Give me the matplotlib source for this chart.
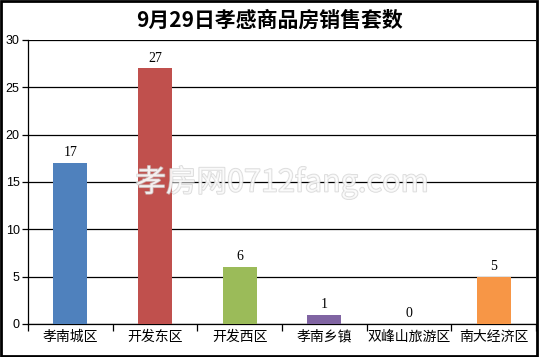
import matplotlib
matplotlib.use("Agg")
import matplotlib.pyplot as plt
from matplotlib.patches import Rectangle
import matplotlib.patheffects as pe

categories = ["孝南城区", "开发东区", "开发西区", "孝南乡镇", "双峰山旅游区", "南大经济区"]
values = [17, 27, 6, 1, 0, 5]
colors = ["#4F81BD", "#C0504D", "#9BBB59", "#8064A2", "#4BACC6", "#F79646"]
yticks = [0, 5, 10, 15, 20, 25, 30]
title = "9月29日孝感商品房销售套数"

plt.rcParams['font.family'] = ['Noto Sans CJK SC', 'DejaVu Sans']

fig = plt.figure(figsize=(5.39, 3.57), dpi=100)
ax = fig.add_axes([28/539, 33/357, 508/539, 284/357])

x = list(range(len(categories)))
ax.bar(x, values, width=0.4, color=colors, zorder=3)
for xi, v in zip(x, values):
    ax.text(xi, v + 0.4, str(v), ha="center", va="bottom", fontsize=10,
            family="Liberation Serif", zorder=4)

ax.set_xlim(-0.5, len(categories) - 0.5)
ax.set_ylim(0, 30)
ax.set_yticks(yticks)
ax.set_yticklabels([str(t) for t in yticks], fontsize=9, family="Liberation Sans")
ax.yaxis.grid(True, color="black", linewidth=0.9, zorder=0)
ax.set_axisbelow(True)

ax.set_xticks([i - 0.5 for i in range(len(categories) + 1)])
ax.set_xticklabels([])
ax.set_xticks(x, minor=True)
ax.set_xticklabels(categories, minor=True, fontsize=10)
ax.tick_params(axis="x", which="minor", length=0, pad=4)
ax.tick_params(axis="x", which="major", length=5, width=0.9)
ax.tick_params(axis="y", length=4, width=0.9, pad=2)

for s in ["top", "right"]:
    ax.spines[s].set_visible(False)
for s in ["left", "bottom"]:
    ax.spines[s].set_linewidth(0.9)

ax.text(0.5, 0.5, "孝房网0712fang.com", transform=ax.transAxes, ha="center",
        va="center", fontsize=22, color="white", alpha=0.7, zorder=5,
        path_effects=[pe.withStroke(linewidth=1.2, foreground="#cccccc")])

fig.text(0.5, 1 - 20/357, title, ha="center", va="center", fontsize=15,
         fontweight="bold")

fig.patches.append(Rectangle((0.002, 0.003), 0.994, 0.994, transform=fig.transFigure,
                             fill=False, edgecolor="black", linewidth=2))

fig.savefig("out.png", dpi=100)
